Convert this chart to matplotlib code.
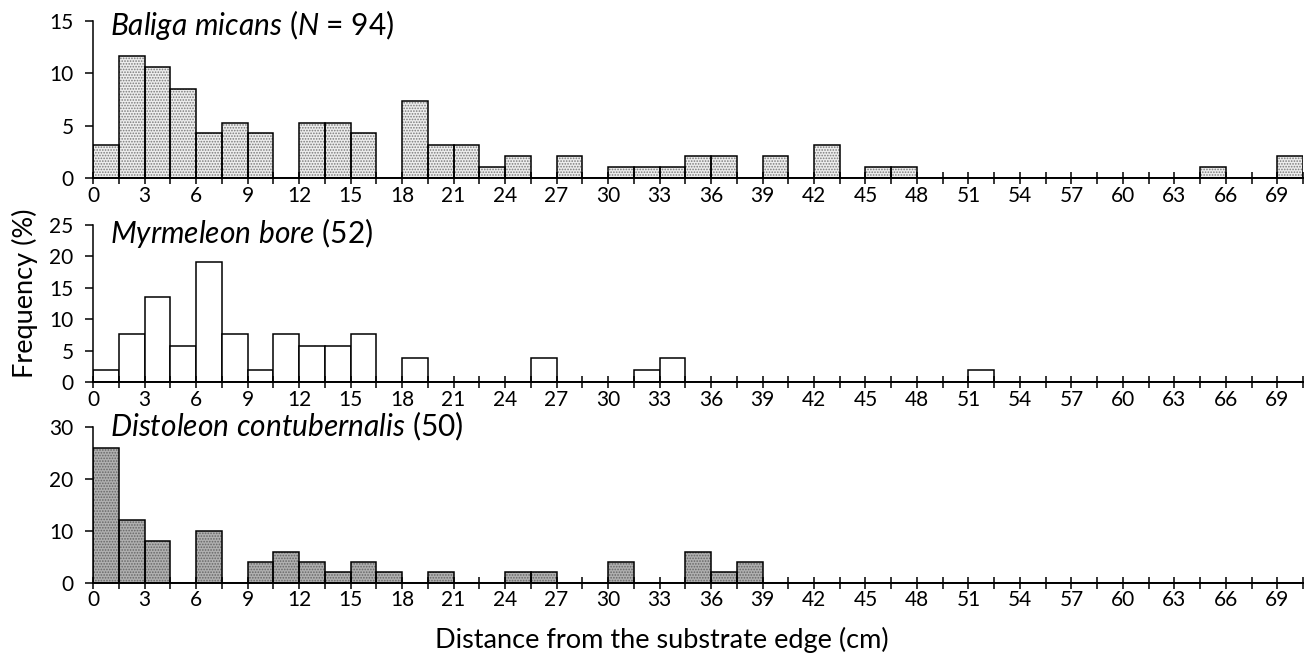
import numpy as np
import matplotlib
matplotlib.use("Agg")
import matplotlib.pyplot as plt

plt.rcParams["font.family"] = ["Lato", "DejaVu Sans"]
plt.rcParams["mathtext.fontset"] = "custom"
plt.rcParams["mathtext.rm"] = "Lato"
plt.rcParams["mathtext.it"] = "Lato:italic"
plt.rcParams["hatch.linewidth"] = 0.8

# ── Data: frequency (%) per 1.5 cm bin, bins start at 0 ──────────────────────
bin_width = 1.5
bin_starts = np.arange(47) * bin_width

baliga = [3.2, 11.7, 10.6, 8.5, 4.3, 5.3, 4.3, 0, 5.3, 5.3, 4.3, 0, 7.4, 3.2, 3.2, 1.1,
          2.1, 0, 2.1, 0, 1.1, 1.1, 1.1, 2.1, 2.1, 0, 2.1, 0, 3.2, 0, 1.1, 1.1,
          0, 0, 0, 0, 0, 0, 0, 0, 0, 0, 0, 1.1, 0, 0, 2.1]
myrmeleon = [1.9, 7.7, 13.5, 5.8, 19.2, 7.7, 1.9, 7.7, 5.8, 5.8, 7.7, 0, 3.8, 0, 0, 0,
             0, 3.8, 0, 0, 0, 1.9, 3.8, 0, 0, 0, 0, 0, 0, 0, 0, 0,
             0, 0, 1.9, 0, 0, 0, 0, 0, 0, 0, 0, 0, 0, 0, 0]
distoleon = [26, 12, 8, 0, 10, 0, 4, 6, 4, 2, 4, 2, 0, 2, 0, 0,
             2, 2, 0, 0, 4, 0, 0, 6, 2, 4, 0, 0, 0, 0, 0, 0,
             0, 0, 0, 0, 0, 0, 0, 0, 0, 0, 0, 0, 0, 0, 0]

titles = [r"$\mathit{Baliga\ micans}$ ($\mathit{N}$ = 94)",
          r"$\mathit{Myrmeleon\ bore}$ (52)",
          r"$\mathit{Distoleon\ contubernalis}$ (50)"]
ymax = [15, 25, 30]
ystep = [5, 5, 10]
fills = [("#ededed", "#7a7a7a"), ("white", None), ("#b0b0b0", "#666666")]

# ── Layout (figure fractions) ────────────────────────────────────────────────
fig = plt.figure(figsize=(13.14, 6.6), dpi=100)
left, width = 0.0708, 0.921
rows = [(0.730, 0.238), (0.421, 0.238), (0.117, 0.236)]
title_base = [1 - 35 / 660, 1 - 243 / 660, 1 - 436 / 660]

for (bottom, height), vals, title, tb, top, step, (fc, hc) in zip(
        rows, [baliga, myrmeleon, distoleon], titles, title_base, ymax, ystep, fills):
    ax = fig.add_axes([left, bottom, width, height])
    if hc is not None:
        ax.bar(bin_starts, vals, width=bin_width, align="edge", color=fc,
               hatch="......", edgecolor=hc, linewidth=0)
        ax.bar(bin_starts, vals, width=bin_width, align="edge", fill=False,
               edgecolor="black", linewidth=1.1)
    else:
        ax.bar(bin_starts, vals, width=bin_width, align="edge", color=fc,
               edgecolor="black", linewidth=1.1)

    ax.set_xlim(0, 70.5)
    ax.set_ylim(0, top)
    ax.set_xticks(np.arange(0, 70, 3))
    ax.set_xticks(np.arange(1.5, 71, 3), minor=True)
    ax.set_yticks(np.arange(0, top + 1, step))
    ax.tick_params(axis="x", which="both", direction="inout", length=9, width=1.1,
                   labelsize=15, pad=1)
    ax.tick_params(axis="y", direction="out", length=6, width=1.1, labelsize=15, pad=8)
    for s in ["top", "right"]:
        ax.spines[s].set_visible(False)
    ax.spines["left"].set_linewidth(1.1)
    ax.spines["bottom"].set_linewidth(1.4)
    fig.text(110 / 1314, tb, title, fontsize=21.5, va="baseline", ha="left")

fig.text(0.019, 1 - 293 / 660, "Frequency (%)", rotation=90, fontsize=19.5,
         va="center", ha="center")
fig.text(0.504, 0.03, "Distance from the substrate edge (cm)", fontsize=19.5,
         va="center", ha="center")

plt.savefig("out.png", dpi=100, facecolor="white")
plt.close()
